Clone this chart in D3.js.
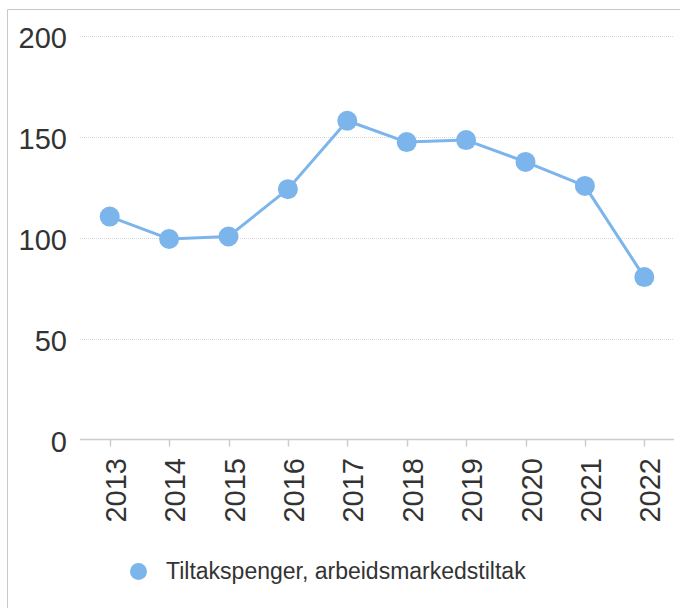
<!DOCTYPE html>
<html>
<head>
<meta charset="utf-8">
<script src="https://cdn.jsdelivr.net/npm/d3@7"></script>
<style>
  body { margin: 0; background: #fff; }
  svg { display: block; font-family: "Liberation Sans", Arial, sans-serif; }
</style>
</head>
<body>
<div id="chart"></div>
<script>
const years = ['2013', '2014', '2015', '2016', '2017', '2018', '2019', '2020', '2021', '2022']
const values = [110.5, 99.4, 100.6, 124.1, 158.0, 147.4, 148.4, 137.6, 125.7, 80.5]
const yTicks = [0, 50, 100, 150, 200]
const seriesName = 'Tiltakspenger, arbeidsmarkedstiltak'

const width = 680
const height = 608
const color = '#7cb5ec'

const svg = d3.select('#chart').append('svg')
  .attr('width', width)
  .attr('height', height)

// frame (top and left only)
svg.append('line')
  .attr('x1', 7.5).attr('x2', width).attr('y1', 9.5).attr('y2', 9.5)
  .attr('stroke', '#c8c8c8').attr('stroke-width', 1)
svg.append('line')
  .attr('x1', 7.5).attr('x2', 7.5).attr('y1', 9.5).attr('y2', height)
  .attr('stroke', '#c8c8c8').attr('stroke-width', 1)

const x = d3.scaleBand().domain(years).range([80, 674])
const y = d3.scaleLinear().domain([0, 200]).range([439.5, 36])

// gridlines
svg.append('g')
  .selectAll('line')
  .data(yTicks.filter(d => d > 0))
  .join('line')
  .attr('x1', 80).attr('x2', 674)
  .attr('y1', d => Math.round(y(d)) + 0.5)
  .attr('y2', d => Math.round(y(d)) + 0.5)
  .attr('stroke', '#d8d8d8')
  .attr('stroke-width', 1)
  .attr('stroke-dasharray', '1,1')

// y labels
svg.append('g')
  .selectAll('text')
  .data(yTicks)
  .join('text')
  .attr('x', 67)
  .attr('y', d => y(d) + 12)
  .attr('text-anchor', 'end')
  .attr('font-size', 29)
  .attr('fill', '#333')
  .text(d => d)

// x axis baseline and ticks
svg.append('line')
  .attr('x1', 80).attr('x2', 674)
  .attr('y1', y(0)).attr('y2', y(0))
  .attr('stroke', '#cccccc').attr('stroke-width', 1.5)

svg.append('g')
  .selectAll('line')
  .data(years)
  .join('line')
  .attr('x1', d => Math.round(x(d) + x.bandwidth() / 2) + 0.5)
  .attr('x2', d => Math.round(x(d) + x.bandwidth() / 2) + 0.5)
  .attr('y1', y(0)).attr('y2', y(0) + 7)
  .attr('stroke', '#cccccc').attr('stroke-width', 1.5)

// x labels, rotated
svg.append('g')
  .selectAll('text')
  .data(years)
  .join('text')
  .attr('transform', d => 'translate(' + (x(d) + x.bandwidth() / 2 + 16) + ',458) rotate(-90)')
  .attr('text-anchor', 'end')
  .attr('font-size', 29)
  .attr('fill', '#333')
  .text(d => d)

// series line
const pts = years.map((yr, i) => ({ year: yr, value: values[i] }))
const line = d3.line()
  .x(d => x(d.year) + x.bandwidth() / 2)
  .y(d => y(d.value))

svg.append('path')
  .datum(pts)
  .attr('d', line)
  .attr('fill', 'none')
  .attr('stroke', color)
  .attr('stroke-width', 3)
  .attr('stroke-linejoin', 'round')

svg.append('g')
  .selectAll('circle')
  .data(pts)
  .join('circle')
  .attr('cx', d => x(d.year) + x.bandwidth() / 2)
  .attr('cy', d => y(d.value))
  .attr('r', 10)
  .attr('fill', color)

// legend
svg.append('circle')
  .attr('cx', 138.5).attr('cy', 571.5).attr('r', 8.5)
  .attr('fill', color)
svg.append('text')
  .attr('x', 166)
  .attr('y', 578.5)
  .attr('font-size', 23)
  .attr('fill', '#333')
  .text(seriesName)
</script>
</body>
</html>
